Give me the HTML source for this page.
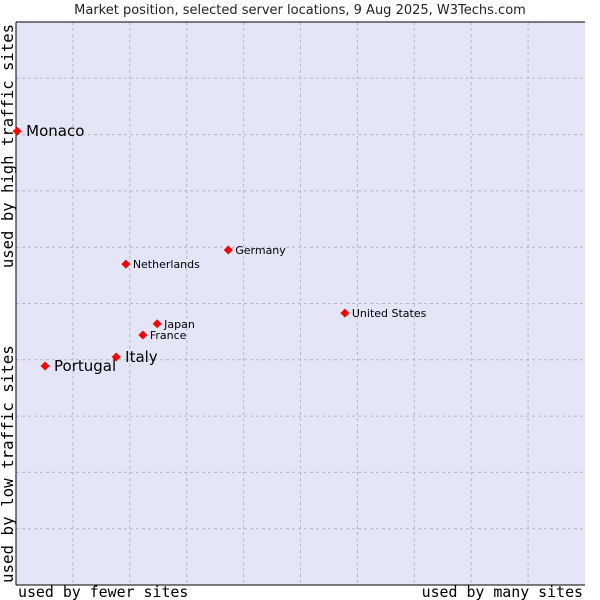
<!DOCTYPE html>
<html><head><meta charset="utf-8"><style>
body{margin:0;background:#fff;}
svg{display:block;}
</style></head><body>
<svg id="chart" width="600" height="600" xmlns="http://www.w3.org/2000/svg">
<rect x="0" y="0" width="600" height="600" fill="#fff"/>
<text x="300" y="14" text-anchor="middle" font-family="DejaVu Sans, sans-serif" font-size="13" fill="#222">Market position, selected server locations, 9 Aug 2025, W3Techs.com</text>
<rect x="16" y="22" width="569" height="563" fill="#e4e6f8"/>
<g id="grid"></g>
<line x1="16" y1="22" x2="585" y2="22" stroke="#000"/>
<line x1="16" y1="22" x2="16" y2="585" stroke="#000"/>
<line x1="16" y1="585" x2="585" y2="585" stroke="#000"/>
<g id="points"></g>
<text x="18" y="597" font-family="DejaVu Sans Mono, monospace" font-size="14.9" fill="#000">used by fewer sites</text>
<text x="583" y="597" text-anchor="end" font-family="DejaVu Sans Mono, monospace" font-size="14.9" fill="#000">used by many sites</text>
<text transform="translate(13,583) rotate(-90)" font-family="DejaVu Sans Mono, monospace" font-size="15.8" fill="#000">used by low traffic sites</text>
<text transform="translate(13,24) rotate(-90)" text-anchor="end" font-family="DejaVu Sans Mono, monospace" font-size="15.6" fill="#000">used by high traffic sites</text>
</svg>
<script>
const names=["Monaco","Portugal","Italy","France","Japan","Netherlands","Germany","United States"];
const xValues=[0.2,5.1,17.6,22.3,24.8,19.3,37.3,57.8];
const yValues=[80.6,38.9,40.5,44.4,46.4,57.0,59.5,48.3];
const bigLabel=[true,true,true,false,false,false,false,false];
const NS="http://www.w3.org/2000/svg";
const L=16,R=585,T=22,B=585;
const xs=v=>L+v/100*(R-L);
const ys=v=>B-v/100*(B-T);
const grid=document.getElementById('grid');
for(let i=1;i<10;i++){
  const v=document.createElementNS(NS,'line');
  v.setAttribute('x1',xs(i*10));v.setAttribute('x2',xs(i*10));v.setAttribute('y1',T);v.setAttribute('y2',B);
  v.setAttribute('stroke','#b8b8b8');v.setAttribute('stroke-dasharray','3,3');
  
  
  grid.appendChild(v);
  const h=document.createElementNS(NS,'line');
  h.setAttribute('x1',L);h.setAttribute('x2',R);h.setAttribute('y1',ys(i*10));h.setAttribute('y2',ys(i*10));
  h.setAttribute('stroke','#b8b8b8');h.setAttribute('stroke-dasharray','3,3');
  
  
  grid.appendChild(h);
}
const pts=document.getElementById('points');
names.forEach((n,i)=>{
  const cx=xs(xValues[i]),cy=ys(yValues[i]);
  const d=document.createElementNS(NS,'path');
  d.setAttribute('d',`M${cx-4.5},${cy}L${cx},${cy-4.5}L${cx+4.5},${cy}L${cx},${cy+4.5}Z`);
  d.setAttribute('fill','#f00');
  
  
  pts.appendChild(d);
  const t=document.createElementNS(NS,'text');
  t.setAttribute('x',cx+(bigLabel[i]?9:7));
  t.setAttribute('y',cy+(bigLabel[i]?5:4));
  t.setAttribute('font-family','DejaVu Sans, sans-serif');
  t.setAttribute('font-size',bigLabel[i]?15:11);
  t.setAttribute('fill','#000');
  t.textContent=n;
  
  
  pts.appendChild(t);
});
</script>
</body></html>
